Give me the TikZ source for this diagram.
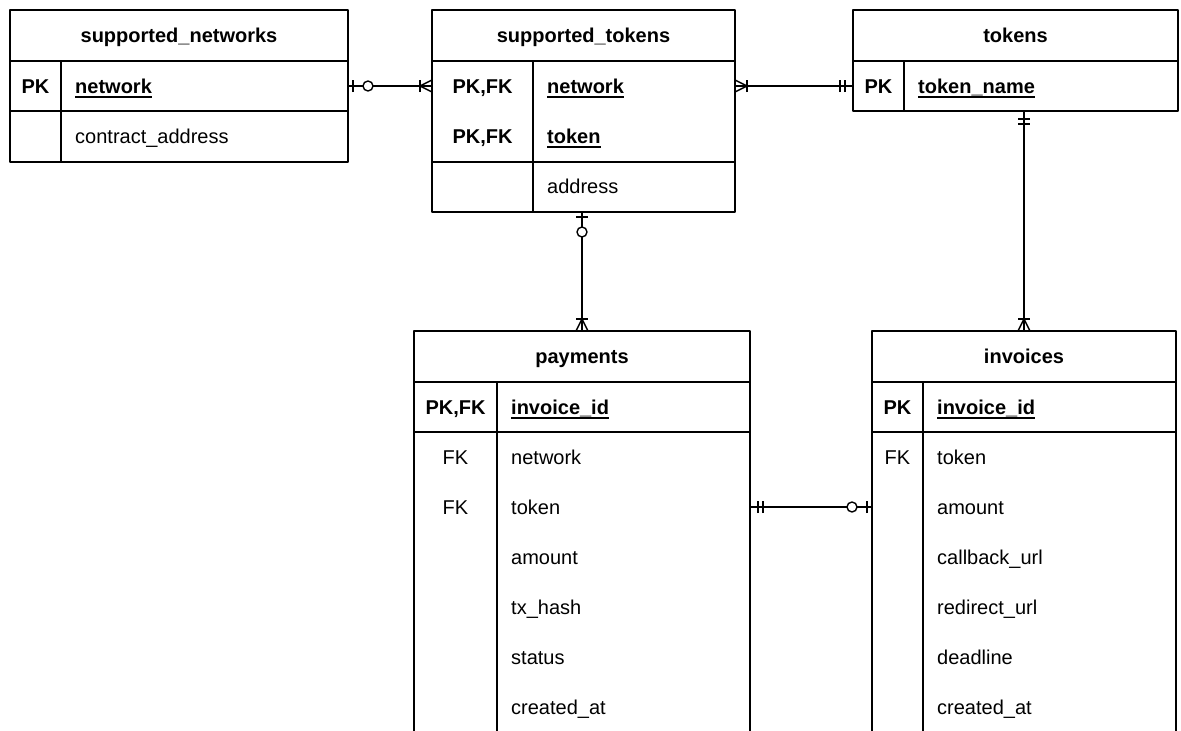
\documentclass[tikz,border=0pt]{standalone}
\usepackage{fontspec}
\setmainfont{Liberation Sans}
\usetikzlibrary{positioning,decorations.markings}

\newcommand{\erfont}{\fontsize{20}{24}\selectfont}
\newcommand{\ulfield}[1]{\sbox0{#1}\rlap{\rule[-4.4pt]{\wd0}{1.8pt}}\usebox0}
% crow's foot end pieces, drawn along the connector
\newcommand{\mkzeroone}{\draw[mk] (5pt,-6pt) -- (5pt,6pt); \draw[mk,fill=white] (20pt,0pt) circle (5pt);}
\newcommand{\mkoneone}{\draw[mk] (8pt,-6pt) -- (8pt,6pt); \draw[mk] (13pt,-6pt) -- (13pt,6pt);}
\newcommand{\mkonemany}{\draw[mk] (0pt,-6pt) -- (12pt,0pt) -- (0pt,6pt); \draw[mk] (12pt,-6pt) -- (12pt,6pt);}

\tikzset{
  tbl/.style={draw=black, line width=1.6pt, inner sep=0pt, outer sep=0pt},
  tline/.style={draw=black, line width=1.6pt},
  title/.style={font=\erfont\bfseries, inner sep=0pt, text height=14.3pt, text depth=0pt},
  key/.style={title},
  fk/.style={title, font=\erfont},
  pkfield/.style={title, anchor=west},
  field/.style={fk, anchor=west},
  rel/.style={draw=black, line width=1.4pt},
  mk/.style={draw=black, line width=1.4pt},
  srcmark/.style={postaction={decorate, decoration={markings, mark=at position 0 with {#1}}}},
  dstmark/.style={postaction={decorate, decoration={markings, mark=at position 1 with {\begin{scope}[xscale=-1] #1 \end{scope}}}}}
}

\begin{document}
\begin{tikzpicture}[x=1pt, y=-1pt, line join=round]
  \useasboundingbox (0,0) rectangle (1181,731);
  \clip (0,0) rectangle (1181,731);

  % supported_networks
  \node[tbl, minimum width=338pt, minimum height=152pt] (sn) at (179,86) {};
  \draw[tline] (10,61) -- (348,61) (10,111) -- (348,111) (61,61) -- (61,162);
  \node[title] (sn-t) at (179,35.5) {supported\_networks};
  \node[key] (sn-k1) at (35.5,86) {PK};
  \node[pkfield] (sn-f1) at (75,86) {\ulfield{network}};
  \node[field] (sn-f2) at (75,136) {contract\_address};

  % supported_tokens
  \node[tbl, minimum width=303pt, minimum height=202pt] (st) at (583.5,111) {};
  \draw[tline] (432,61) -- (735,61) (432,162) -- (735,162) (533,61) -- (533,212);
  \node[title] (st-t) at (583.5,35.5) {supported\_tokens};
  \node[key] (st-k1) at (482.5,86) {PK,FK};
  \node[key] (st-k2) at (482.5,136) {PK,FK};
  \node[pkfield] (st-f1) at (547,86) {\ulfield{network}};
  \node[pkfield] (st-f2) at (547,136) {\ulfield{token}};
  \node[field] (st-f3) at (547,186) {address};

  % tokens
  \node[tbl, minimum width=325pt, minimum height=101pt] (tok) at (1015.5,60.5) {};
  \draw[tline] (853,61) -- (1178,61) (904,61) -- (904,111);
  \node[title] (tok-t) at (1015.5,35.5) {tokens};
  \node[key] (tok-k1) at (878.5,86) {PK};
  \node[pkfield] (tok-f1) at (918,86) {\ulfield{token\_name}};

  % payments
  \node[tbl, minimum width=336pt, minimum height=402pt] (pay) at (582,532) {};
  \draw[tline] (414,382) -- (750,382) (414,432) -- (750,432) (497,382) -- (497,733);
  \node[title] (pay-t) at (582,356.5) {payments};
  \node[key] (pay-k1) at (455.5,407) {PK,FK};
  \node[fk] (pay-k2) at (455.5,457) {FK};
  \node[fk] (pay-k3) at (455.5,507) {FK};
  \node[pkfield] (pay-f1) at (511,407) {\ulfield{invoice\_id}};
  \node[field] (pay-f2) at (511,457) {network};
  \node[field] (pay-f3) at (511,507) {token};
  \node[field] (pay-f4) at (511,557) {amount};
  \node[field] (pay-f5) at (511,607) {tx\_hash};
  \node[field] (pay-f6) at (511,657) {status};
  \node[field] (pay-f7) at (511,707) {created\_at};

  % invoices
  \node[tbl, minimum width=304pt, minimum height=402pt] (inv) at (1024,532) {};
  \draw[tline] (872,382) -- (1176,382) (872,432) -- (1176,432) (923,382) -- (923,733);
  \node[title] (inv-t) at (1024,356.5) {invoices};
  \node[key] (inv-k1) at (897.5,407) {PK};
  \node[fk] (inv-k2) at (897.5,457) {FK};
  \node[pkfield] (inv-f1) at (937,407) {\ulfield{invoice\_id}};
  \node[field] (inv-f2) at (937,457) {token};
  \node[field] (inv-f3) at (937,507) {amount};
  \node[field] (inv-f4) at (937,557) {callback\_url};
  \node[field] (inv-f5) at (937,607) {redirect\_url};
  \node[field] (inv-f6) at (937,657) {deadline};
  \node[field] (inv-f7) at (937,707) {created\_at};

  % relations
  \draw[rel, srcmark=\mkzeroone, dstmark=\mkonemany] (sn.east |- sn-k1) -- (st.west |- sn-k1);
  \draw[rel, srcmark=\mkonemany, dstmark=\mkoneone] (st.east |- st-k1) -- (tok.west |- tok-k1);
  \draw[rel, srcmark=\mkzeroone, dstmark=\mkonemany] (pay.north |- st.south) -- (pay.north);
  \draw[rel, srcmark=\mkoneone, dstmark=\mkonemany] (inv.north |- tok.south) -- (inv.north);
  \draw[rel, srcmark=\mkoneone, dstmark=\mkzeroone] (pay.east |- pay-k3) -- (inv.west |- pay-k3);
\end{tikzpicture}
\end{document}
